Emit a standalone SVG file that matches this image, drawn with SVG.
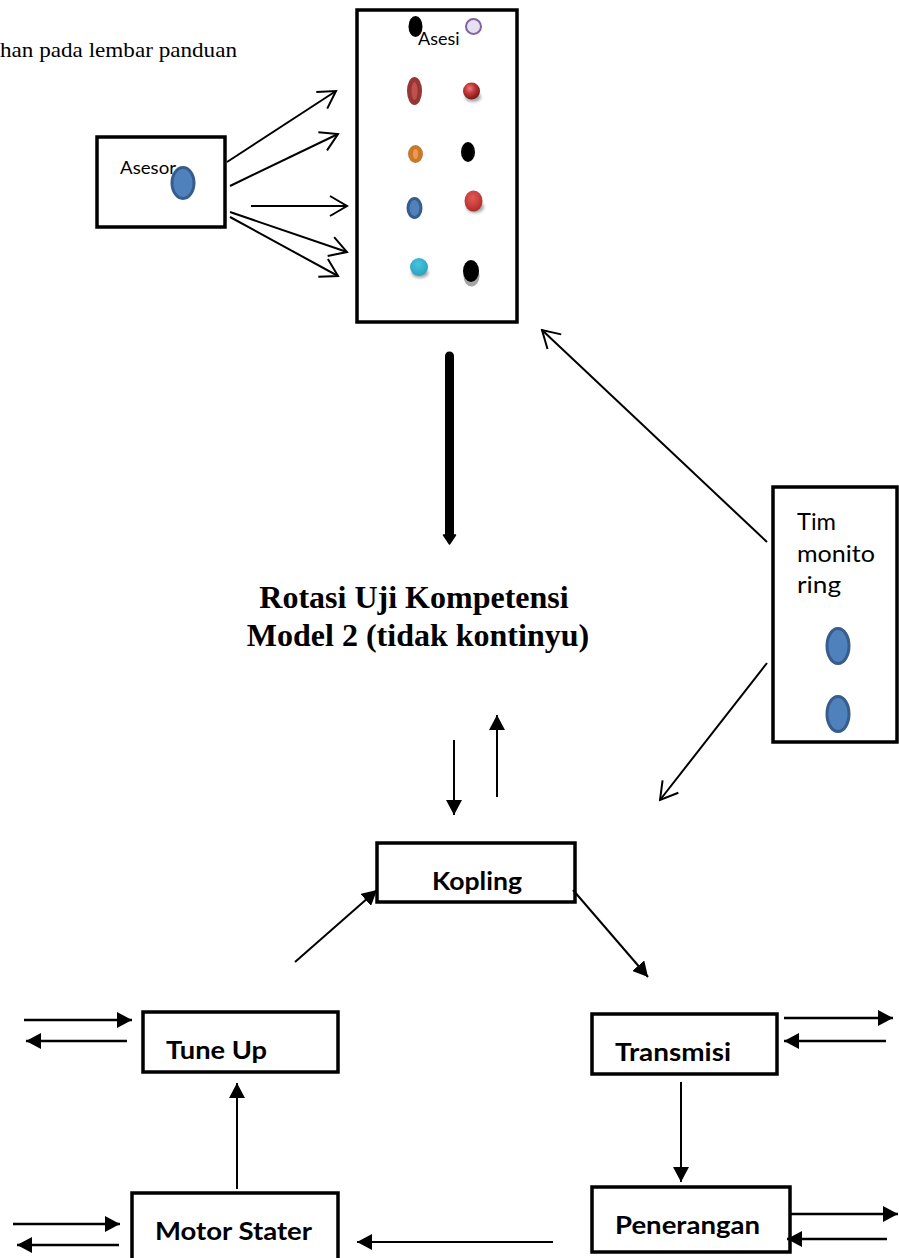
<svg xmlns="http://www.w3.org/2000/svg" width="899" height="1258" viewBox="0 0 899 1258">
  <style>
    .box { fill: #ffffff; stroke: #000000; stroke-width: 3.5; }
    .lbl { font-family: Lato, "Open Sans", sans-serif; font-size: 18px; fill: #000000; }
    .lblb { font-family: Lato, "Open Sans", sans-serif; font-size: 25px; font-weight: 700; fill: #000000; }
    .title { font-family: "Liberation Serif", "Times New Roman", serif; font-size: 32px; font-weight: 700; fill: #000000; text-anchor: middle; }
    .note { font-family: "Liberation Serif", "Times New Roman", serif; font-size: 22px; fill: #000000; }
    .open { stroke: #000000; stroke-width: 2; fill: none; marker-end: url(#openHead); }
    .flow { stroke: #000000; stroke-width: 2; fill: none; marker-end: url(#solidHead); }
    .io { stroke: #000000; stroke-width: 2.6; fill: none; marker-end: url(#solidHead); }
    .person { fill: #4f81bd; stroke: #385d8a; stroke-width: 3; }
  </style>
  <defs>
    <marker id="openHead" viewBox="0 0 22 24" refX="20" refY="12" markerWidth="22" markerHeight="24" markerUnits="userSpaceOnUse" orient="auto">
      <path d="M3,2 L20,12 L3,22" fill="none" stroke="#000000" stroke-width="2"/>
    </marker>
    <marker id="solidHead" viewBox="0 0 15 16" refX="15" refY="8" markerWidth="15" markerHeight="16" markerUnits="userSpaceOnUse" orient="auto">
      <path d="M0,0 L15,8 L0,16 z" fill="#000000"/>
    </marker>
    <radialGradient id="redBall" cx="0.4" cy="0.35" r="0.65">
      <stop offset="0" stop-color="#f07a78"/>
      <stop offset="0.45" stop-color="#c0393a"/>
      <stop offset="1" stop-color="#7a1616"/>
    </radialGradient>
    <radialGradient id="redBall2" cx="0.45" cy="0.35" r="0.7">
      <stop offset="0" stop-color="#e05a56"/>
      <stop offset="0.6" stop-color="#c73c3a"/>
      <stop offset="1" stop-color="#a02a2a"/>
    </radialGradient>
    <radialGradient id="cyanBall" cx="0.45" cy="0.35" r="0.7">
      <stop offset="0" stop-color="#45c6e0"/>
      <stop offset="1" stop-color="#2a9dbd"/>
    </radialGradient>
    <filter id="soft" x="-50%" y="-50%" width="200%" height="200%">
      <feGaussianBlur stdDeviation="1.6"/>
    </filter>
  </defs>

  <!-- caption fragment at the top-left edge -->
  <text class="note" x="0" y="57" textLength="237" lengthAdjust="spacingAndGlyphs">han pada lembar panduan</text>

  <!-- Asesor -->
  <g id="asesor">
    <rect class="box" x="97" y="137" width="128" height="90"/>
    <text class="lbl" x="120" y="174" textLength="56" lengthAdjust="spacingAndGlyphs">Asesor</text>
    <ellipse class="person" cx="183" cy="183" rx="11" ry="15.5"/>
  </g>

  <!-- Asesi -->
  <g id="asesi">
    <rect class="box" x="357" y="10" width="160" height="312"/>
    <ellipse cx="415.5" cy="26.5" rx="7" ry="10.5" fill="#000000"/>
    <circle cx="473.5" cy="26.5" r="7.5" fill="#e6e0f0" stroke="#8064a2" stroke-width="2"/>
    <text class="lbl" x="418" y="45">Asesi</text>

    <ellipse cx="414.5" cy="91" rx="7.5" ry="14" fill="#953735"/>
    <ellipse cx="414.5" cy="91" rx="3" ry="9" fill="#c0504d"/>
    <ellipse cx="473" cy="97" rx="8" ry="5" fill="#808080" filter="url(#soft)" opacity="0.7"/>
    <circle cx="471.5" cy="91" r="8.5" fill="url(#redBall)"/>

    <ellipse cx="415.5" cy="154" rx="7.5" ry="9" fill="#c57a2e"/>
    <ellipse cx="415.5" cy="154" rx="2.5" ry="5" fill="#f79646"/>
    <ellipse cx="468" cy="152" rx="7" ry="10" fill="#000000"/>

    <ellipse cx="414.5" cy="208" rx="6.5" ry="9.5" fill="#4f81bd" stroke="#385d8a" stroke-width="3"/>
    <ellipse cx="475" cy="207" rx="9" ry="6" fill="#808080" filter="url(#soft)" opacity="0.7"/>
    <ellipse cx="473.5" cy="201" rx="9" ry="10.5" fill="url(#redBall2)"/>

    <ellipse cx="420" cy="273" rx="8.5" ry="5" fill="#808080" filter="url(#soft)" opacity="0.7"/>
    <circle cx="419" cy="267" r="9" fill="url(#cyanBall)"/>
    <ellipse cx="471.5" cy="276" rx="8" ry="10.5" fill="#a6a6a6"/>
    <ellipse cx="471" cy="271" rx="8" ry="11" fill="#000000"/>
  </g>

  <!-- Tim monitoring -->
  <g id="tim-monitoring">
    <rect class="box" x="773" y="487" width="124" height="255"/>
    <text class="lbl" style="font-size:23px" x="797" y="530" textLength="39" lengthAdjust="spacingAndGlyphs">Tim</text>
    <text class="lbl" style="font-size:23px" x="797" y="562" textLength="78" lengthAdjust="spacingAndGlyphs">monito</text>
    <text class="lbl" style="font-size:23px" x="797" y="593" textLength="44" lengthAdjust="spacingAndGlyphs">ring</text>
    <ellipse class="person" cx="838" cy="646" rx="11" ry="17.5"/>
    <ellipse class="person" cx="838" cy="714" rx="11" ry="17.5"/>
  </g>

  <!-- title -->
  <g id="title">
    <text class="title" x="414" y="608">Rotasi Uji Kompetensi</text>
    <text class="title" x="418" y="646">Model 2 (tidak kontinyu)</text>
  </g>

  <!-- stations -->
  <g id="kopling">
    <rect class="box" x="377" y="843" width="198" height="59"/>
    <text class="lblb" x="432" y="890" textLength="90" lengthAdjust="spacingAndGlyphs">Kopling</text>
  </g>
  <g id="tune-up">
    <rect class="box" x="143" y="1012" width="195" height="60"/>
    <text class="lblb" x="166" y="1059" textLength="101" lengthAdjust="spacingAndGlyphs">Tune Up</text>
  </g>
  <g id="transmisi">
    <rect class="box" x="592" y="1014" width="185" height="60"/>
    <text class="lblb" x="615" y="1061" textLength="116" lengthAdjust="spacingAndGlyphs">Transmisi</text>
  </g>
  <g id="penerangan">
    <rect class="box" x="592" y="1187" width="198" height="65"/>
    <text class="lblb" x="615" y="1234" textLength="145" lengthAdjust="spacingAndGlyphs">Penerangan</text>
  </g>
  <g id="motor-stater">
    <rect class="box" x="132" y="1193" width="206" height="70"/>
    <text class="lblb" x="155" y="1240" textLength="157" lengthAdjust="spacingAndGlyphs">Motor Stater</text>
  </g>

  <!-- connectors -->
  <g id="connectors">
    <!-- assessor to candidates -->
    <line class="open" x1="227" y1="162" x2="336" y2="91"/>
    <line class="open" x1="230" y1="186" x2="338" y2="134"/>
    <line class="open" x1="251" y1="206" x2="347" y2="206"/>
    <line class="open" x1="230" y1="212" x2="347" y2="252"/>
    <line class="open" x1="230" y1="217" x2="338" y2="276"/>

    <!-- monitoring team -->
    <line class="open" x1="767" y1="542" x2="542" y2="330"/>
    <line class="open" x1="767" y1="663" x2="660" y2="800"/>

    <!-- heavy link from candidates down to the rotation -->
    <line x1="449.5" y1="356" x2="449.5" y2="536" stroke="#000000" stroke-width="9" stroke-linecap="round"/>
    <path d="M443.5,535 L455.5,535 L449.5,544 z" fill="#000000" stroke="#000000" stroke-width="1.5" stroke-linejoin="round"/>

    <!-- in / out at Kopling -->
    <line class="flow" x1="454" y1="740" x2="454" y2="815"/>
    <line class="flow" x1="497" y1="797" x2="497" y2="715"/>

    <!-- rotation loop -->
    <line class="flow" x1="295" y1="962" x2="377" y2="890"/>
    <line class="flow" x1="573" y1="890" x2="648" y2="977"/>
    <line class="flow" x1="681" y1="1082" x2="681" y2="1182"/>
    <line class="flow" x1="553" y1="1242" x2="357" y2="1242"/>
    <line class="flow" x1="237" y1="1189" x2="237" y2="1083"/>

    <!-- in / out at each station -->
    <line class="io" x1="24" y1="1020" x2="132" y2="1020"/>
    <line class="io" x1="127" y1="1041" x2="26" y2="1041"/>
    <line class="io" x1="784" y1="1018" x2="893" y2="1018"/>
    <line class="io" x1="886" y1="1041" x2="784" y2="1041"/>
    <line class="io" x1="790" y1="1214" x2="898" y2="1214"/>
    <line class="io" x1="887" y1="1239" x2="787" y2="1239"/>
    <line class="io" x1="13" y1="1224" x2="120" y2="1224"/>
    <line class="io" x1="119" y1="1245" x2="17" y2="1245"/>
  </g>
</svg>
